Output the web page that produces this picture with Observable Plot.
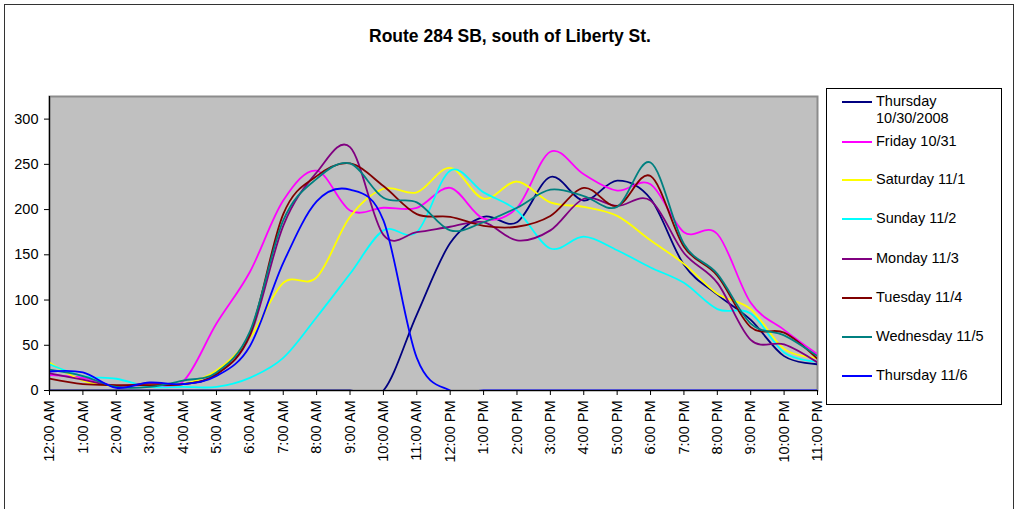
<!DOCTYPE html>
<html><head><meta charset="utf-8">
<script src="https://cdn.jsdelivr.net/npm/d3@7"></script>
<script src="https://cdn.jsdelivr.net/npm/@observablehq/plot@0.6"></script>
<style>
body{margin:0;background:#fff;font-family:"Liberation Sans",Arial,sans-serif;}
#wrap{position:relative;width:1026px;height:509px;overflow:hidden;background:#fff;}
#border{position:absolute;left:4px;top:4px;width:1008px;height:600px;border:1.5px solid #333;}
#title{position:absolute;left:0;top:26px;width:1020px;text-align:center;font-weight:bold;font-size:17.5px;color:#000;}
#chart{position:absolute;left:0;top:60px;}
#legend{position:absolute;left:826px;top:88px;width:174px;height:315px;border:1px solid #000;background:#fff;}
.item{position:absolute;left:15px;font-size:14.5px;line-height:17px;color:#000;}
.item .ln{position:absolute;left:0;top:8px;width:30px;height:2px;}
.item .tx{position:absolute;left:34px;top:0;white-space:nowrap;}
</style>
</head><body>
<div id="wrap">
  <div id="border"></div>
  <div id="title">Route 284 SB, south of Liberty St.</div>
  <div id="chart"></div>
  <div id="legend"></div>
</div>
<script>
const hourLabels = ["12:00 AM","1:00 AM","2:00 AM","3:00 AM","4:00 AM","5:00 AM","6:00 AM","7:00 AM","8:00 AM","9:00 AM","10:00 AM","11:00 AM","12:00 PM","1:00 PM","2:00 PM","3:00 PM","4:00 PM","5:00 PM","6:00 PM","7:00 PM","8:00 PM","9:00 PM","10:00 PM","11:00 PM"];
const seriesNames = ["Thursday 10/30/2008","Friday 10/31","Saturday 11/1","Sunday 11/2","Monday 11/3","Tuesday 11/4","Wednesday 11/5","Thursday 11/6"];
const seriesColors = ["#000080","#FF00FF","#FFFF00","#00FFFF","#800080","#800000","#008080","#0000FF"];
const thu1030 = [0,0,0,0,0,0,0,0,0,0,0,84,163,192,186,236,210,232,212,139,106,78,38,29];
const fri1031 = [17,14,5,7,10,74,131,210,243,199,202,202,224,190,202,264,239,221,228,175,173,97,67,40];
const sat111  = [31,11,5,7,7,22,58,119,125,192,223,219,246,212,231,208,203,193,166,140,107,90,46,36];
const sun112  = [29,16,13,4,4,4,14,36,81,129,177,175,243,219,199,157,170,155,136,119,90,85,42,32];
const mon113  = [19,12,5,8,7,18,60,182,241,269,172,175,181,186,166,177,212,204,210,152,119,56,51,31];
const tue114  = [13,7,6,6,7,18,62,195,237,251,226,195,192,182,181,193,224,204,237,159,127,70,64,35];
const wed115  = [23,16,4,4,11,20,65,188,234,251,213,208,177,186,202,222,215,203,252,162,129,74,61,38];
const thu116  = [21,20,3,9,7,16,49,141,209,222,188,36,0,0,0,0,0,0,0,0,0,0,0,0];
const yTicks = [0,50,100,150,200,250,300];

const allSeries = [thu1030,fri1031,sat111,sun112,mon113,tue114,wed115,thu116];
const rows = [];
allSeries.forEach((vals,si)=>vals.forEach((v,h)=>rows.push({series:seriesNames[si],hour:h,value:v})));

const chart = Plot.plot({
  width:1026, height:449,
  marginLeft:49, marginRight:209, marginTop:36, marginBottom:119,
  style:{fontFamily:"'Liberation Sans',Arial,sans-serif",fontSize:"14.5px",color:"#000",background:"transparent"},
  x:{domain:[0,23]},
  y:{domain:[0,325]},
  color:{domain:seriesNames, range:seriesColors},
  marks:[
    Plot.frame({fill:"#C0C0C0",stroke:"#8c8c8c",strokeWidth:2}),
    Plot.ruleY([0],{stroke:"#000",strokeWidth:1.2}),
    Plot.line(rows,{x:"hour",y:"value",z:"series",stroke:"series",curve:"cardinal",strokeWidth:1.8,clip:true}),
    Plot.axisY({ticks:yTicks,tickSize:5,tickPadding:6,label:null,stroke:"#000",fill:"#000"}),
    Plot.axisX({ticks:d3.range(24),tickFormat:i=>hourLabels[i],tickRotate:-90,tickSize:5,tickPadding:5,label:null,stroke:"#000",fill:"#000"}),
    Plot.ruleX([0],{stroke:"#000",strokeWidth:1.2})
  ]
});
document.getElementById("chart").appendChild(chart);

const legend = document.getElementById("legend");
const tops = [4,44,82,121,161,200,239,278];
seriesNames.forEach((name,i)=>{
  const it = document.createElement("div");
  it.className="item"; it.style.top=tops[i]+"px";
  const ln = document.createElement("div"); ln.className="ln"; ln.style.background=seriesColors[i];
  const tx = document.createElement("div"); tx.className="tx";
  if(i===0){ tx.innerHTML="Thursday<br>10/30/2008"; } else { tx.textContent=name; }
  it.appendChild(ln); it.appendChild(tx); legend.appendChild(it);
});
</script>
</body></html>
